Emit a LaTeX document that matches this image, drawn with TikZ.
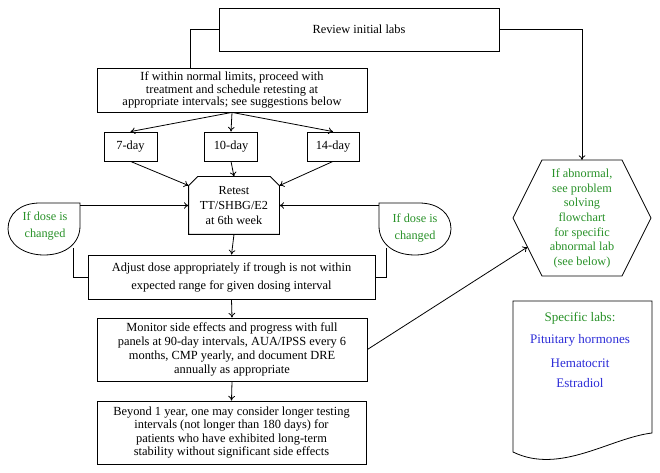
\documentclass[tikz,border=0pt]{standalone}
\usepackage{fontspec}
\setmainfont{Liberation Serif}
\usetikzlibrary{arrows.meta,calc}
\definecolor{dgreen}{RGB}{40,145,40}
\definecolor{dblue}{RGB}{45,45,215}
\begin{document}
\begin{tikzpicture}[x=0.75pt,y=-0.75pt,line width=0.6pt,
  box/.style={draw,inner sep=0pt,align=center,font=\fontsize{9.3}{#1}\selectfont},
  box/.default={10.5},
  txt/.style={inner sep=0pt,align=center,font=\fontsize{9.2}{#1}\selectfont},
  txt/.default={11},
  doctxt/.style={inner sep=0pt,align=center,font=\fontsize{9.8}{11}\selectfont},
  arr/.style={-{To[length=3.5pt,width=5pt]}}]
\useasboundingbox (0,0) rectangle (660,473);
% boxes
\node[box,minimum width=210pt,minimum height=32.25pt] (review) at (359,29.5) {Review initial labs};
\node[box=8.4,minimum width=202.5pt,minimum height=33pt] (normal) at (232,90)
  {If within normal limits, proceed with\\treatment and schedule retesting at\\appropriate intervals; see suggestions below};
\node[box,minimum width=39.75pt,minimum height=21.75pt] (d7) at (130.5,146.5) {7-day};
\node[box,minimum width=39.75pt,minimum height=21.75pt] (d10) at (231,146.5) {10-day};
\node[box,minimum width=39pt,minimum height=21.75pt] (d14) at (333,146.5) {14-day};
\node[txt=11.25,minimum width=67.5pt,minimum height=42.75pt] (retest) at (234,205.5)
  {Retest\\TT/SHBG/E2\\at 6th week};
\draw ($(retest.north west)+(0,9)$) coordinate (rnw) -- ($(retest.north west)+(9,0)$)
  -- ($(retest.north east)+(-9,0)$) -- ($(retest.north east)+(0,9)$) coordinate (rne)
  -- (retest.south east) -- (retest.south west) -- cycle;
\node[box=13.5,minimum width=215.25pt,minimum height=33pt] (adjust) at (231.5,277)
  {Adjust dose appropriately if trough is not within\\expected range for given dosing interval};
\node[box=10.5,minimum width=202.5pt,minimum height=47.25pt] (monitor) at (232,349.5)
  {Monitor side effects and progress with full\\panels at 90-day intervals, AUA/IPSS every 6\\months, CMP yearly, and document DRE\\annually as appropriate};
\node[box=10.1,minimum width=201.75pt,minimum height=47.25pt] (beyond) at (231.5,432.5)
  {Beyond 1 year, one may consider longer testing\\intervals (not longer than 180 days) for\\patients who have exhibited long-term\\stability without significant side effects};
% dose-changed shapes
\draw (80,203) -- (40,203) .. controls (20,203) and (8,214) .. (8,229)
  .. controls (8,244) and (24,255) .. (44,255) .. controls (66,255) and (80,243) .. (80,226) -- cycle;
\node[txt=13,text=dgreen] (doseL) at (45,226) {If dose is\\changed};
\coordinate (dlr) at (80,205.5);
\coordinate (dlb) at (73,248);
\draw (379,203) -- (419,203) .. controls (439,203) and (451,214) .. (451,229)
  .. controls (451,244) and (435,255) .. (415,255) .. controls (393,255) and (379,243) .. (379,226) -- cycle;
\node[txt=13,text=dgreen] (doseR) at (415,228) {If dose is\\changed};
\coordinate (drl) at (379,205.5);
\coordinate (drb) at (386,248);
% hexagon
\draw (513,218) -- (542,160) -- (622,160) -- (651,218) -- (622,276) -- (542,276) -- cycle;
\coordinate (hext) at (582,160);
\coordinate (hexsw) at (527.5,247);
\node[txt=11,text=dgreen] (hex) at (582,218.5)
  {If abnormal,\\see problem\\solving\\flowchart\\for specific\\abnormal lab\\(see below)};
% document shape
\draw (513,301) -- (652,301) -- (652,433) .. controls (610,438) and (560,475) .. (513,452) -- cycle;
\node[doctxt,text=dgreen] (spec) at (580,318) {Specific labs:};
\node[doctxt,text=dblue] (pit) at (580,340) {Pituitary hormones};
\node[doctxt,text=dblue] (hem) at (580,363) {Hematocrit};
\node[doctxt,text=dblue] (est) at (580,383) {Estradiol};
% connectors
\draw (review.west) -| ([xshift=-31.5pt]normal.north);
\draw[arr] (review.east) -| (hext);
\draw[arr] (normal.south) -- (d7.north);
\draw[arr] (normal.south) -- (d10.north);
\draw[arr] (normal.south) -- (d14.north);
\draw[arr] (d7.south) -- (rnw);
\draw[arr] (d10.south) -- (retest.north);
\draw[arr] (d14.south) -- (rne);
\draw[arr] (dlr) -- (retest.west);
\draw[arr] (drl) -- (retest.east);
\draw (adjust.west) -| (dlb);
\draw (adjust.east) -| (drb);
\draw[arr] (retest.south) -- (adjust.north);
\draw[arr] (adjust.south) -- (monitor.north);
\draw[arr] (monitor.south) -- (beyond.north);
\draw[arr] (monitor.east) -- (hexsw);
\end{tikzpicture}
\end{document}
